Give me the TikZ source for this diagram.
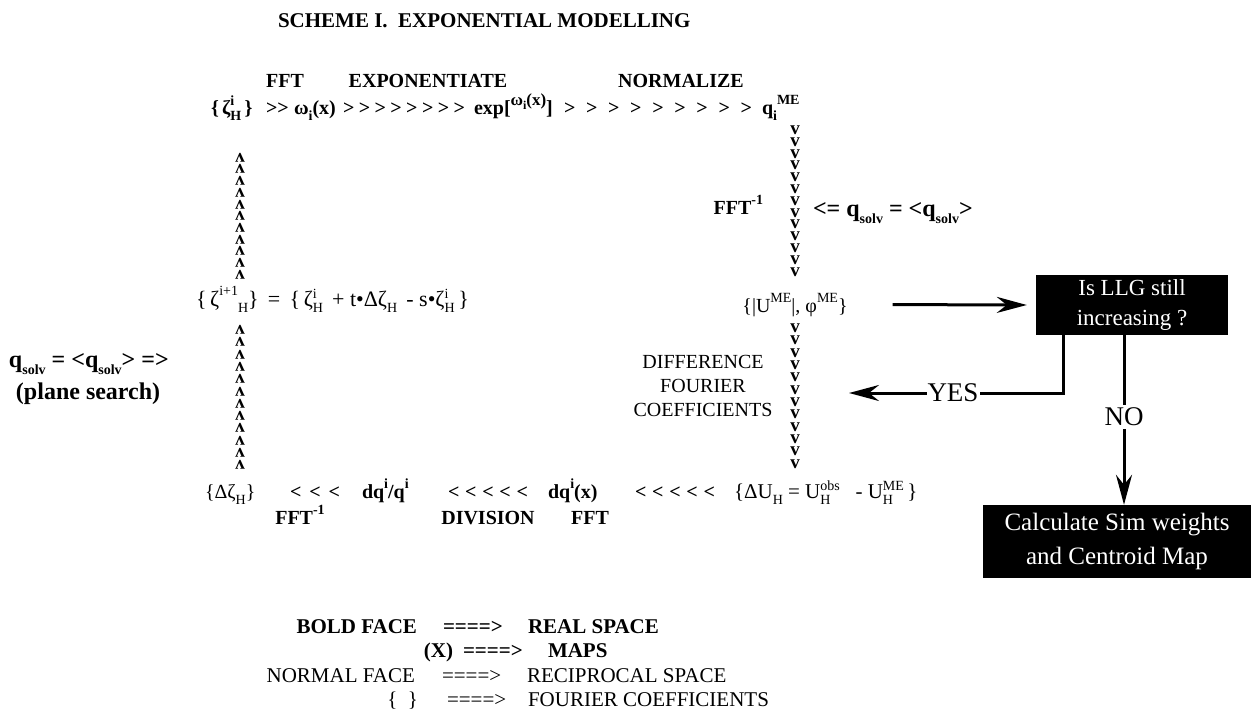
\documentclass[tikz,border=0pt]{standalone}
\usepackage{fontspec}
\setmainfont{Liberation Serif}
\usetikzlibrary{arrows.meta}
\newcommand\upi[1]{\raisebox{0.5em}{\fontsize{14}{14}\selectfont #1}}
\newcommand\dni[1]{\raisebox{-0.3em}{\fontsize{14}{14}\selectfont #1}}
\newcommand\both[2]{\raisebox{-0.3em}{\fontsize{14}{14}\selectfont\shortstack[l]{#1\\[2pt]#2}}}
\begin{document}
\begin{tikzpicture}[x=1pt,y=-1pt,
  bf/.style={font=\bfseries\fontsize{20}{24}\selectfont, inner sep=0pt, outer sep=0pt},
  rm/.style={font=\fontsize{20}{24}\selectfont, inner sep=0pt, outer sep=0pt},
  leg/.style={font=\bfseries\fontsize{21}{24}\selectfont, inner sep=0pt, outer sep=0pt},
  legn/.style={font=\fontsize{21}{24}\selectfont, inner sep=0pt, outer sep=0pt},
  chev/.style={font=\bfseries\fontsize{20}{20}\selectfont, inner sep=0pt, outer sep=0pt},
  vcol/.style={font=\bfseries\fontsize{19}{#1}\selectfont, align=center, inner sep=0pt, outer sep=0pt},
  blackbox/.style={fill=black, text=white, align=center, inner sep=0pt},
  ln/.style={line width=3pt},
  bigarrow/.style={line width=3pt, -{Stealth[length=30pt,width=16pt,inset=10pt]}}
]
\useasboundingbox (0,0) rectangle (1251,709);
% title and top labels
\node[bf, font=\bfseries\fontsize{21}{24}\selectfont, anchor=base west] (title) at (278,28) {SCHEME I.\ \ EXPONENTIAL MODELLING};
\node[bf, anchor=base] (lfft) at (285,88) {FFT};
\node[bf, anchor=base] (lexp) at (428,88) {EXPONENTIATE};
\node[bf, anchor=base] (lnorm) at (681,88) {NORMALIZE};
% top row
\node[bf, anchor=base west] (zeta) at (211,114) {\{\,ζ\both{i}{H}\,\}};
\node[chev, anchor=base west] (c1) at (266,114) {\makebox[22pt][s]{>\hfil>}};
\node[bf, anchor=base west] (omega) at (294,114) {ω\dni{i}(x)};
\node[chev, anchor=base west] (c2) at (343,114) {\makebox[122pt][s]{>\hfil>\hfil>\hfil>\hfil>\hfil>\hfil>\hfil>}};
\node[bf, anchor=base west] (expn) at (474,114) {exp[\raisebox{0.45em}{\fontsize{17}{17}\selectfont ω\raisebox{-0.25em}{\fontsize{12}{12}\selectfont i}(x)}]};
\node[chev, anchor=base west] (c3) at (564,114) {\makebox[188pt][s]{>\hfil>\hfil>\hfil>\hfil>\hfil>\hfil>\hfil>\hfil>}};
\node[bf, anchor=base west] (qme) at (762,114) {q\dni{i}\upi{ME}};
% left column of carets
\node[vcol=11.7, rotate=180] (lc1) at (240,216) {v\\v\\v\\v\\v\\v\\v\\v\\v\\v\\v};
\node[rm, font=\fontsize{22}{26}\selectfont, anchor=base west] (form) at (196,306) {\{\,ζ\upi{i+1}\dni{H}\}\, = \,\{\,ζ\both{i}{H}\, + t•Δζ\dni{H}\, - s•ζ\both{i}{H}\,\}};
\node[vcol=12.3, rotate=180] (lc2) at (240,397.5) {v\\v\\v\\v\\v\\v\\v\\v\\v\\v\\v\\v};
\node[bf, font=\bfseries\fontsize{24}{28}\selectfont, anchor=base west] (qs) at (9,367) {q\dni{solv} = <q\dni{solv}> =>};
\node[bf, font=\bfseries\fontsize{24}{28}\selectfont, anchor=base west] (ps) at (16,399) {(plane search)};
% right column
\node[vcol=11.8] (rc1) at (795,201) {v\\v\\v\\v\\v\\v\\v\\v\\v\\v\\v\\v\\v};
\node[bf, anchor=base east] (ifft) at (763,214) {FFT\upi{-1}};
\node[bf, font=\bfseries\fontsize{24}{26}\selectfont, anchor=base west] (qs2) at (813,216) {<= q\dni{solv} = <q\dni{solv}>};
\node[rm, anchor=base] (um) at (795,312) {\{|U\upi{ME}|, φ\upi{ME}\}};
\node[vcol=12.36] (rc2) at (795,396) {v\\v\\v\\v\\v\\v\\v\\v\\v\\v\\v\\v};
\node[rm, anchor=base] (d1) at (703,368) {DIFFERENCE};
\node[rm, anchor=base] (d2) at (703,392) {FOURIER};
\node[rm, anchor=base] (d3) at (703,416) {COEFFICIENTS};
% decision boxes
\node[blackbox, font=\fontsize{23}{30}\selectfont, minimum width=192pt, minimum height=60pt] (box1) at (1132,305) {Is LLG still\\increasing ?};
\node[blackbox, font=\fontsize{25}{34}\selectfont, minimum width=268pt, minimum height=73pt] (box2) at (1117,541.5) {Calculate Sim weights\\and Centroid Map};
\draw[bigarrow] ([xshift=45pt]um.east) -- ([xshift=-9pt]box1.west);
\node[rm, font=\fontsize{27}{30}\selectfont, fill=white, inner sep=1pt] (yes) at (953,393) {YES};
\coordinate (yestip) at (849,393);
\draw[ln] ([xshift=-69pt]box1.south) |- (yes.east);
\draw[bigarrow] (yes.west) -- (yestip);
\node[rm, font=\fontsize{27}{30}\selectfont] (no) at (1124,417) {NO};
\draw[ln, shorten >=3pt] ([xshift=-8pt]box1.south) -- (no.north);
\draw[bigarrow, shorten <=3pt] (no.south) -- (no.south |- box2.north);
% bottom row
\node[rm, anchor=base west] (dz) at (205,498) {\{Δζ\dni{H}\}};
\node[chev, anchor=base west] (l1) at (290,498) {\makebox[50pt][s]{<\hfil<\hfil<}};
\node[bf, anchor=base west] (dqq) at (362,498) {dq\upi{i}/q\upi{i}};
\node[chev, anchor=base west] (l2) at (448,498) {\makebox[80pt][s]{<\hfil<\hfil<\hfil<\hfil<}};
\node[bf, anchor=base west] (dqx) at (548,498) {dq\upi{i}(x)};
\node[chev, anchor=base west] (l3) at (635,498) {\makebox[80pt][s]{<\hfil<\hfil<\hfil<\hfil<}};
\node[rm, font=\fontsize{21}{24}\selectfont, anchor=base west] (du) at (734,498) {\{ΔU\dni{H} = U\both{obs}{H}\ \ \ - U\both{ME}{H}\,\}};
\node[bf, anchor=base] (bfft) at (300,524) {FFT\upi{-1}};
\node[bf, anchor=base] (div) at (488,524) {DIVISION};
\node[bf, anchor=base] (bfft2) at (590,524) {FFT};
% legend
\node[leg, anchor=base east] (lb) at (417,633) {BOLD FACE};
\node[leg, anchor=base west] (le1) at (443,633) {====>};
\node[leg, anchor=base west] (lr) at (528,633) {REAL SPACE};
\node[leg, anchor=base east] (lx) at (453,657) {(X)};
\node[leg, anchor=base west] (le2) at (463,657) {====>};
\node[leg, anchor=base west] (lm) at (548,657) {MAPS};
\node[legn, anchor=base east] (ln) at (415,682) {NORMAL FACE};
\node[legn, anchor=base west] (le3) at (442,682) {====>};
\node[legn, anchor=base west] (lrs) at (527,682) {RECIPROCAL SPACE};
\node[legn, anchor=base east] (lbr) at (418,706) {\{\ \ \}};
\node[legn, anchor=base west] (le4) at (447,706) {====>};
\node[legn, anchor=base west] (lfc) at (528,706) {FOURIER COEFFICIENTS};
\end{tikzpicture}
\end{document}
